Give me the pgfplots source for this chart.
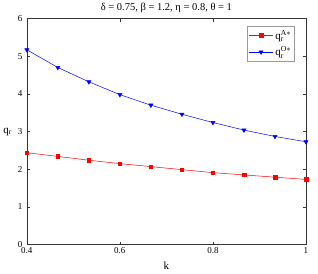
\documentclass[border=0pt]{standalone}
\usepackage{fontspec}
\setmainfont{Liberation Serif}
\usepackage{pgfplots}
\pgfplotsset{compat=1.18}
\begin{document}
\begin{tikzpicture}
\begin{axis}[
  scale only axis,
  width=279pt, height=226pt,
  xmin=0.4, xmax=1, ymin=0, ymax=6,
  xtick={0.4,0.6,0.8,1}, ytick={0,1,2,3,4,5,6},
  xticklabels={0.4,0.6,0.8,1},
  /pgf/number format/assume math mode=true,
  tick align=inside, tick pos=both,
  major tick length=3pt,
  tick style={black!80, line width=0.5pt},
  axis line style={black!80, line width=0.5pt},
  ticklabel style={font=\fontsize{9}{10}\selectfont},
  xticklabel style={yshift=1pt},
  yticklabel style={xshift=-1pt},
  xlabel={k}, ylabel={q\textsubscript{r}},
  label style={font=\fontsize{11}{12}\selectfont},
  xlabel style={yshift=-2pt},
  ylabel style={rotate=-90, at={(ticklabel cs:0.5)}, anchor=east, xshift=1pt},
  title={δ = 0.75, β = 1.2, η = 0.8, θ = 1},
  title style={font=\fontsize{10.5}{12}\selectfont, yshift=-4pt},
  legend style={at={(0.96,0.965)}, anchor=north east, draw=black!40, font=\fontsize{11}{12}\selectfont, row sep=2pt, inner sep=1.5pt},
  legend cell align=left,
  legend image code/.code={\draw[#1] (0pt,0pt) -- (24pt,0pt); \draw[#1, only marks] plot coordinates {(12pt,0pt)};},
]
\addplot[red, line width=0.5pt, mark=square*, mark size=1.8pt] coordinates {
(0.4,2.44) (0.46667,2.34) (0.53333,2.24) (0.6,2.15) (0.66667,2.07)
(0.73333,1.99) (0.8,1.91) (0.86667,1.85) (0.93333,1.79) (1,1.73)};
\addlegendentry{$\mathrm{q}_{\mathrm{r}}^{\mathrm{A*}}$}
\addplot[blue, line width=0.5pt, mark=triangle*, mark size=2.4pt, mark options={rotate=180}] coordinates {
(0.4,5.17) (0.46667,4.70) (0.53333,4.32) (0.6,3.98) (0.66667,3.70)
(0.73333,3.46) (0.8,3.24) (0.86667,3.04) (0.93333,2.87) (1,2.73)};
\addlegendentry{$\mathrm{q}_{\mathrm{r}}^{\mathrm{O*}}$}
\end{axis}
\path (current axis.east) ++(12pt,0pt);
\end{tikzpicture}
\end{document}
